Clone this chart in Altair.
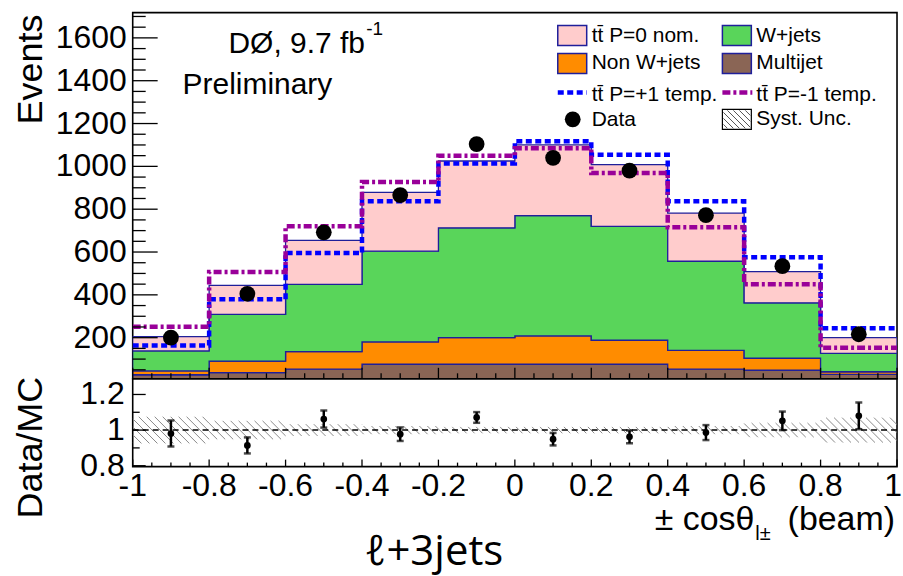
import altair as alt
import numpy as np
import pandas as pd

# ---- binning in +/- cos(theta) ------------------------------------------
edges = [-1.0, -0.8, -0.6, -0.4, -0.2, 0.0, 0.2, 0.4, 0.6, 0.8, 1.0]
centers = [-0.9, -0.7, -0.5, -0.3, -0.1, 0.1, 0.3, 0.5, 0.7, 0.9]

# ---- predicted yields per bin (events) ----------------------------------
multijet = [27, 37, 53, 76, 76, 76, 76, 53, 48, 29]
non_wjets = [18, 54, 82, 104, 124, 132, 112, 88, 56, 12]
wjets = [93, 218, 314, 424, 513, 562, 532, 416, 259, 86]
ttbar_nom = [67, 135, 205, 275, 312, 330, 288, 225, 145, 73]

# total prediction with the polarised ttbar templates
ttbar_p_plus = [164, 379, 596, 837, 1013, 1117, 1054, 837, 576, 244]
ttbar_p_minus = [251, 507, 720, 927, 1050, 1085, 969, 716, 449, 153]

# observed events
data_events = [200, 405, 692, 866, 1104, 1040, 980, 772, 534, 216]

# ---- ratio panel ---------------------------------------------------------
ratio = [0.981, 0.914, 1.062, 0.977, 1.071, 0.949, 0.962, 0.986, 1.052, 1.080]
ratio_err = [0.073, 0.045, 0.048, 0.038, 0.030, 0.035, 0.036, 0.042, 0.052, 0.075]
syst_unc = [0.075, 0.052, 0.033, 0.023, 0.018, 0.018, 0.018, 0.023, 0.040, 0.070]

# ---- axis ticks and their labels ----------------------------------------
events_ticks = [200, 400, 600, 800, 1000, 1200, 1400, 1600]
events_labels = ["200", "400", "600", "800", "1000", "1200", "1400", "1600"]
events_minor = [v for v in range(50, 1701, 50) if v % 200]
ratio_ticks = [0.8, 1.0, 1.2]
ratio_labels = ["0.8", "1", "1.2"]
ratio_minor = [0.9, 1.1]
x_ticks = edges
x_labels = ["-1", "-0.8", "-0.6", "-0.4", "-0.2", "0", "0.2", "0.4", "0.6", "0.8", "1"]
x_minor = [round(-1 + 0.05 * i, 2) for i in range(41) if i % 4]

# ---- layout / style ------------------------------------------------------
W, H1, H2 = 766, 367, 88
Y_DOM = [8, 1718]
R_DOM = [0.795, 1.288]
FONT = "Liberation Sans"
NAVY = "#1f1f9a"

xs = alt.Scale(domain=[-1, 1], nice=False, zero=False)
ys = alt.Scale(domain=Y_DOM, nice=False, zero=False)
rs = alt.Scale(domain=R_DOM, nice=False, zero=False)
SX = W / 2.0
SY1 = H1 / (Y_DOM[1] - Y_DOM[0])
SY2 = H2 / (R_DOM[1] - R_DOM[0])

one = pd.DataFrame({"a": [0]})


def hatch_segments(u0, u1, v0, v1, step):
    """Diagonal '\\' hatch lines (pixel space) clipped to a rectangle."""
    segs = []
    kmin = int(np.ceil((v0 - u1) / step))
    kmax = int(np.floor((v1 - u0) / step))
    for k in range(kmin, kmax + 1):
        c = k * step
        ua = max(u0, v0 - c)
        ub = min(u1, v1 - c)
        if ub > ua:
            segs.append((ua, ua + c, ub, ub + c))
    return segs


def px_text(s, x, y, size, align="left", baseline="alphabetic", angle=0, font=FONT):
    return alt.Chart(one).mark_text(
        text=s, fontSize=size, font=font, align=align, baseline=baseline,
        angle=angle, color="black"
    ).encode(x=alt.value(x), y=alt.value(y))


def px_rect(x0, x1, y0, y1, fill, stroke=NAVY, sw=1.5):
    return alt.Chart(one).mark_rect(fill=fill, stroke=stroke, strokeWidth=sw).encode(
        x=alt.value(x0), x2=alt.value(x1), y=alt.value(y0), y2=alt.value(y1)
    )


def y_ticks(values, length, scale):
    return alt.Chart(pd.DataFrame({"v": values})).mark_rule(color="black", strokeWidth=1.3).encode(
        y=alt.Y("v:Q", scale=scale, axis=None), x=alt.value(0), x2=alt.value(length)
    )


def x_ticks_layer(values, length, height):
    return alt.Chart(pd.DataFrame({"v": values})).mark_rule(color="black", strokeWidth=1.3).encode(
        x=alt.X("v:Q", scale=xs, axis=None), y=alt.value(height), y2=alt.value(height - length)
    )


def y_tick_labels(values, labels, scale, pad):
    df = pd.DataFrame({"v": values, "t": labels})
    return alt.Chart(df).mark_text(
        font=FONT, fontSize=32, color="black", align="right", baseline="middle"
    ).encode(y=alt.Y("v:Q", scale=scale, axis=None), x=alt.value(-pad), text="t:N")


def x_tick_labels(values, labels, height, align="center", dx=0):
    df = pd.DataFrame({"v": values, "t": labels})
    return alt.Chart(df).mark_text(
        font=FONT, fontSize=32, color="black", align=align, baseline="top", dx=dx
    ).encode(x=alt.X("v:Q", scale=xs, axis=None), y=alt.value(height), text="t:N")


# ---- stacked step histogram table ---------------------------------------
components = [
    ("Multijet", multijet, "#8a6555"),
    ("Non W+jets", non_wjets, "#ff8c00"),
    ("W+jets", wjets, "#59d55a"),
    ("ttbar P=0", ttbar_nom, "#ffcccc"),
]
rows = []
base = np.zeros(len(centers))
for name, vals, _ in components:
    top = base + np.array(vals, dtype=float)
    for i, x in enumerate(edges):
        j = min(i, len(centers) - 1)
        rows.append({"comp": name, "x": x, "lo": base[j], "hi": top[j]})
    base = top
stack_df = pd.DataFrame(rows)

stack = alt.Chart(stack_df).mark_area(
    interpolate="step-after", stroke=NAVY, strokeWidth=1.3, clip=True
).encode(
    x=alt.X("x:Q", scale=xs, axis=None),
    y=alt.Y("hi:Q", scale=ys, axis=None),
    y2="lo:Q",
    color=alt.Color("comp:N", legend=None, scale=alt.Scale(
        domain=[c[0] for c in components], range=[c[2] for c in components])),
)


def step_line(vals, color, dash):
    df = pd.DataFrame({"x": edges, "y": list(vals) + [vals[-1]]})
    return alt.Chart(df).mark_line(
        interpolate="step-after", color=color, strokeWidth=4.5, strokeDash=dash, clip=True
    ).encode(x=alt.X("x:Q", scale=xs, axis=None), y=alt.Y("y:Q", scale=ys, axis=None))


line_plus = step_line(ttbar_p_plus, "#0000ff", [6, 3.5])
line_minus = step_line(ttbar_p_minus, "#990099", [8, 3, 3, 3])

points = alt.Chart(pd.DataFrame({"x": centers, "y": data_events})).mark_circle(
    size=250, color="black", opacity=1
).encode(x=alt.X("x:Q", scale=xs, axis=None), y=alt.Y("y:Q", scale=ys, axis=None))

# ---- legend (pixel layout inside the upper panel) ------------------------
C0, C1 = 426, 591          # patch left edge of each legend column
PW = 29                    # patch width
T0, T1 = 460, 625          # text start of each column
legend_layers = [
    px_rect(C0, C0 + PW, 13, 33, "#ffcccc"),
    px_rect(C1, C1 + PW, 13, 33, "#59d55a"),
    px_rect(C0, C0 + PW, 41, 61, "#ff8c00"),
    px_rect(C1, C1 + PW, 41, 61, "#8a6555"),
    alt.Chart(one).mark_rule(color="#0000ff", strokeWidth=4.5, strokeDash=[6, 3.5]).encode(
        x=alt.value(C0), x2=alt.value(C0 + PW), y=alt.value(80)),
    alt.Chart(one).mark_rule(color="#990099", strokeWidth=4.5, strokeDash=[8, 3, 3, 3]).encode(
        x=alt.value(C1), x2=alt.value(C1 + PW + 1), y=alt.value(80)),
    alt.Chart(one).mark_circle(size=250, color="black", opacity=1).encode(
        x=alt.value(C0 + 15), y=alt.value(107)),
    px_rect(C1, C1 + PW, 97, 117, "white", stroke="black", sw=1.2),
]
leg_hatch = [
    {"x": -1 + ua / SX, "y": Y_DOM[1] - va / SY1, "x2": -1 + ub / SX, "y2": Y_DOM[1] - vb / SY1}
    for ua, va, ub, vb in hatch_segments(C1 + 1, C1 + PW - 1, 98, 116, 6)
]
legend_layers.append(
    alt.Chart(pd.DataFrame(leg_hatch)).mark_rule(color="#555555", strokeWidth=1).encode(
        x=alt.X("x:Q", scale=xs, axis=None), x2="x2:Q",
        y=alt.Y("y:Q", scale=ys, axis=None), y2="y2:Q")
)
for txt, x, y in [
    ("tt\u0304 P=0 nom.", T0, 23), ("W+jets", T1, 23),
    ("Non W+jets", T0, 51), ("Multijet", T1, 51),
    ("tt\u0304 P=+1 temp.", T0, 83), ("tt\u0304 P=-1 temp.", T1, 83),
    ("Data", T0, 108), ("Syst. Unc.", T1, 107),
]:
    legend_layers.append(px_text(txt, x, y, 21, baseline="middle"))

main = alt.layer(
    stack, line_plus, line_minus, points,
    y_ticks(events_ticks, 25, ys), y_ticks(events_minor, 13, ys),
    x_ticks_layer(x_ticks, 11, H1), x_ticks_layer(x_minor, 5.5, H1),
    y_tick_labels(events_ticks, events_labels, ys, 6),
    *legend_layers,
    px_text("D\u00d8, 9.7 fb", 96, 40, 30),
    px_text("-1", 234, 22, 19),
    px_text("Preliminary", 50, 82, 30),
    px_text("Events", -102, 2, 36, align="right", baseline="middle", angle=270),
).properties(width=W, height=H1)

# ---- ratio panel ---------------------------------------------------------
band = []
for i, s in enumerate(syst_unc):
    u0 = (edges[i] + 1) * SX
    u1 = (edges[i + 1] + 1) * SX
    v0 = (R_DOM[1] - (1 + s)) * SY2
    v1 = (R_DOM[1] - (1 - s)) * SY2
    for ua, va, ub, vb in hatch_segments(u0, u1, v0, v1, 8):
        band.append({"x": -1 + ua / SX, "y": R_DOM[1] - va / SY2,
                     "x2": -1 + ub / SX, "y2": R_DOM[1] - vb / SY2})

hatch = alt.Chart(pd.DataFrame(band)).mark_rule(color="#8a8a8a", strokeWidth=1, clip=True).encode(
    x=alt.X("x:Q", scale=xs, axis=None), x2="x2:Q",
    y=alt.Y("y:Q", scale=rs, axis=None), y2="y2:Q",
)

unity = alt.Chart(one).mark_rule(color="black", strokeWidth=1.5, strokeDash=[6, 4]).encode(
    y=alt.datum(1, scale=rs, axis=None))

rdf = pd.DataFrame({
    "x": centers, "r": ratio,
    "lo": [r - e for r, e in zip(ratio, ratio_err)],
    "hi": [r + e for r, e in zip(ratio, ratio_err)],
})
rx = alt.X("x:Q", scale=xs, axis=None)
err = alt.Chart(rdf).mark_rule(color="black", strokeWidth=2.5).encode(
    x=rx, y=alt.Y("lo:Q", scale=rs, axis=None), y2="hi:Q")
cap_lo = alt.Chart(rdf).mark_tick(color="black", orient="horizontal", size=7, thickness=2.5).encode(
    x=rx, y=alt.Y("lo:Q", scale=rs, axis=None))
cap_hi = alt.Chart(rdf).mark_tick(color="black", orient="horizontal", size=7, thickness=2.5).encode(
    x=rx, y=alt.Y("hi:Q", scale=rs, axis=None))
rpts = alt.Chart(rdf).mark_circle(size=45, color="black", opacity=1).encode(
    x=rx, y=alt.Y("r:Q", scale=rs, axis=None))

ratio_panel = alt.layer(
    hatch, unity, err, cap_lo, cap_hi, rpts,
    y_ticks(ratio_ticks, 13, rs), y_ticks(ratio_minor, 7, rs),
    x_ticks_layer(x_ticks, 7, H2), x_ticks_layer(x_minor, 4, H2),
    y_tick_labels(ratio_ticks, ratio_labels, rs, 8),
    x_tick_labels(x_ticks[:-1], x_labels[:-1], H2 + 4),
    # the last label sits at the right edge of the figure
    x_tick_labels(x_ticks[-1:], x_labels[-1:], H2 + 4, align="right", dx=5),
    px_text("Data/MC", -102, -2, 36, align="right", baseline="middle", angle=270),
    px_text("(beam)", 764, 152, 34, align="right"),
    px_text("\u00b1 cos\u03b8", 623, 152, 34, align="right"),
    px_text("l\u00b1", 624, 162, 20),
    px_text("\u2113+3jets", 302, 187, 42, align="center", font="Open Sans"),
).properties(width=W, height=H2)

chart = alt.vconcat(main, ratio_panel, spacing=0, bounds="flush").properties(
    padding={"left": 12, "top": 11, "right": 0, "bottom": 1}
).configure_view(stroke="black", strokeWidth=1.6)

chart.save("out.html", embed_options={"renderer": "svg", "actions": False})
